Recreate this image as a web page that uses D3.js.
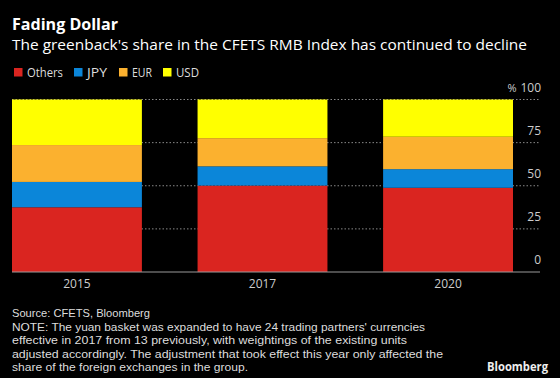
<!DOCTYPE html>
<html><head><meta charset="utf-8">
<script src="https://cdn.jsdelivr.net/npm/d3@7"></script>
<style>body{margin:0;background:#000;}svg{display:block;}</style>
</head><body>
<script>
const years = ["2015", "2017", "2020"];
const seriesNames = ["Others", "JPY", "EUR", "USD"];
const others = [37.53, 50.11, 48.82];
const jpy = [14.68, 11.15, 10.80];
const eur = [21.39, 16.34, 18.79];
const usd = [26.40, 22.40, 21.59];
const colors = ["#da2520", "#0b86d9", "#fbb12f", "#ffff00"];
const yTicks = [0, 25, 50, 75, 100];

const W = 560, H = 378;
const svg = d3.select("body").append("svg").attr("width", W).attr("height", H)
  .style("font-family", "'Open Sans', 'DejaVu Sans', sans-serif");
svg.append("rect").attr("width", W).attr("height", H).attr("fill", "#000");

// Title
svg.append("text").attr("x", 12).attr("y", 30).attr("fill", "#fff")
  .attr("font-size", 16).attr("font-weight", "bold")
  .attr("textLength", 106).attr("lengthAdjust", "spacingAndGlyphs")
  .text("Fading Dollar");
svg.append("text").attr("x", 12).attr("y", 50).attr("fill", "#fff")
  .attr("font-size", 15)
  .attr("textLength", 515).attr("lengthAdjust", "spacingAndGlyphs")
  .text("The greenback's share in the CFETS RMB Index has continued to decline");

// Legend
const legendX = [14, 74, 119, 163];
const legendW = [36, 20, 20, 23];
seriesNames.forEach((n, i) => {
  svg.append("rect").attr("x", legendX[i]).attr("y", 68).attr("width", 8.5).attr("height", 8.5).attr("fill", colors[i]);
  svg.append("text").attr("x", legendX[i] + 13).attr("y", 77).attr("fill", "#ddd")
    .attr("font-size", 12).attr("textLength", legendW[i]).attr("lengthAdjust", "spacingAndGlyphs").text(n);
});

// Scales
const x = d3.scaleBand().domain(years).range([12, 513]).paddingInner(0.3).paddingOuter(0);
const y = d3.scaleLinear().domain([0, 100]).range([272, 99.5]);

// Gridlines
svg.append("g").selectAll("line").data(yTicks.filter(t => t > 0)).join("line")
  .attr("x1", 12).attr("x2", 540).attr("y1", d => y(d)).attr("y2", d => y(d))
  .attr("stroke", "#888").attr("stroke-width", 1).attr("stroke-dasharray", "1.5,2");

// Stack
const rows = years.map((yr, i) => ({year: yr, Others: others[i], JPY: jpy[i], EUR: eur[i], USD: usd[i]}));
const stack = d3.stack().keys(seriesNames)(rows);
svg.append("g").selectAll("g").data(stack).join("g")
  .attr("fill", (d, i) => colors[i])
  .selectAll("rect").data(d => d).join("rect")
  .attr("x", d => x(d.data.year)).attr("width", x.bandwidth())
  .attr("y", d => y(d[1])).attr("height", d => y(d[0]) - y(d[1]));

// Baseline
svg.append("line").attr("x1", 12).attr("x2", 540).attr("y1", y(0)).attr("y2", y(0))
  .attr("stroke", "#999").attr("stroke-width", 1.2);

// Y labels
svg.append("g").selectAll("text").data(yTicks).join("text")
  .attr("x", 541).attr("y", d => y(d) - 8).attr("text-anchor", "end")
  .attr("fill", "#ccc").attr("font-size", 12).text(d => d);
svg.append("text").attr("x", 516.5).attr("y", y(100) - 8).attr("text-anchor", "end")
  .attr("fill", "#ccc").attr("font-size", 11).text("%");

// X labels
svg.append("g").selectAll("text").data(years).join("text")
  .attr("x", d => x(d) + x.bandwidth() / 2).attr("y", 288).attr("text-anchor", "middle")
  .attr("fill", "#ccc").attr("font-size", 12).text(d => d);

// Footer
const foot = [
  ["Source: CFETS, Bloomberg", 138],
  ["NOTE: The yuan basket was expanded to have 24 trading partners' currencies", 413],
  ["effective in 2017 from 13 previously, with weightings of the existing units", 395],
  ["adjusted accordingly. The adjustment that took effect this year only affected the", 431],
  ["share of the foreign exchanges in the group.", 236]
];
foot.forEach((f, i) => {
  svg.append("text").attr("x", 12).attr("y", 317 + i * 13.6).attr("fill", "#ddd")
    .style("font-family", "'Liberation Sans', Arial, sans-serif")
    .attr("font-size", 11.5).attr("textLength", f[1]).attr("lengthAdjust", "spacingAndGlyphs").text(f[0]);
});
svg.append("text").attr("x", 548).attr("y", 371).attr("text-anchor", "end").attr("fill", "#eee")
  .attr("font-size", 13).attr("font-weight", "bold").attr("textLength", 61).attr("lengthAdjust", "spacingAndGlyphs")
  .text("Bloomberg");
</script>
</body></html>
